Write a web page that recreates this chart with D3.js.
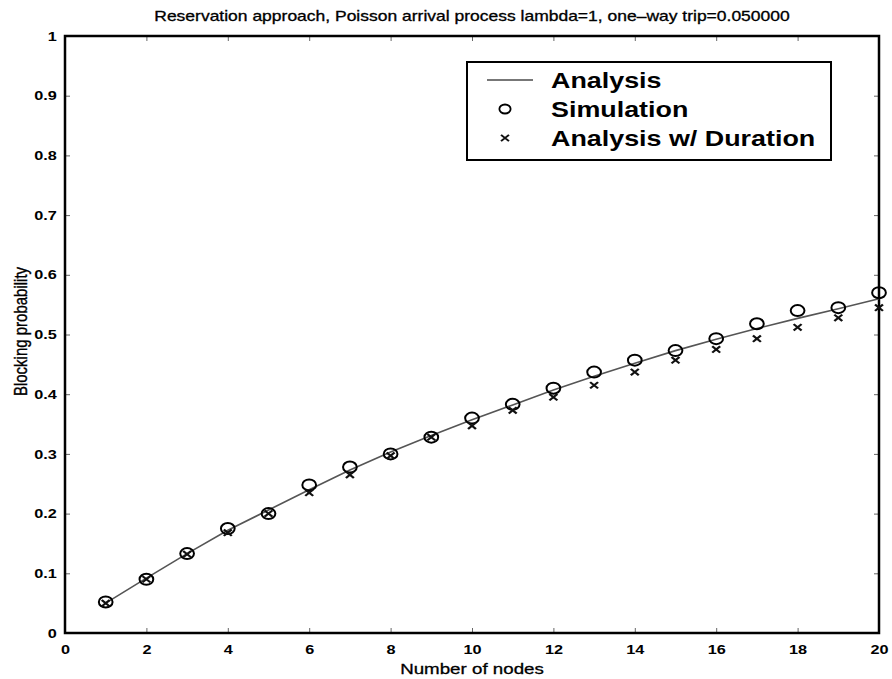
<!DOCTYPE html>
<html>
<head>
<meta charset="utf-8">
<script src="https://cdn.jsdelivr.net/npm/d3@7"></script>
<style>
  html, body { margin: 0; padding: 0; background: #fff; }
  svg text { font-family: "Liberation Sans", Arial, Helvetica, sans-serif; fill: #000; }
</style>
</head>
<body>
<svg id="chart" width="892" height="679"></svg>
<script>
// Number of nodes on the path
const nodes = [1,2,3,4,5,6,7,8,9,10,11,12,13,14,15,16,17,18,19,20];
// Blocking probability, analytic model
const analysis = [0.050,0.092,0.133,0.172,0.206,0.240,0.273,0.303,0.331,0.357,0.382,0.407,0.430,0.452,0.473,0.492,0.510,0.527,0.543,0.560];
// Blocking probability, simulation
const simulation = [0.052,0.090,0.133,0.175,0.200,0.248,0.278,0.300,0.328,0.360,0.383,0.410,0.437,0.457,0.473,0.493,0.518,0.540,0.545,0.570];
// Blocking probability, analytic model including call duration
const analysisDuration = [0.050,0.090,0.132,0.168,0.200,0.235,0.265,0.297,0.328,0.347,0.373,0.395,0.415,0.437,0.457,0.475,0.493,0.512,0.528,0.545];

const xTicks = [0,2,4,6,8,10,12,14,16,18,20];
const yTicks = [0,0.1,0.2,0.3,0.4,0.5,0.6,0.7,0.8,0.9,1];
const legendLabels = ["Analysis", "Simulation", "Analysis w/ Duration"];

// The figure is printed with a wide horizontal aspect; text and markers are widened to suit.
const SX = 1.25;

const svg = d3.select("#chart");
const plotL = 65, plotR = 879, plotT = 36, plotB = 633;

const x = d3.scaleLinear().domain([0, 20]).range([plotL, plotR]);
const y = d3.scaleLinear().domain([0, 1]).range([plotB, plotT]);

const fmtY = d => d === 0 ? "0" : d === 1 ? "1" : d3.format(".1f")(d);

// Helper for horizontally widened text placed at (px, py)
function wideText(px, py, str, size, anchor, weight) {
  return svg.append("text")
    .attr("transform", `translate(${px},${py}) scale(${SX},1)`)
    .attr("text-anchor", anchor || "start")
    .style("font-size", size + "px")
    .style("font-weight", weight || "normal")
    .text(str);
}

// Title
wideText((plotL + plotR) / 2, 21, "Reservation approach, Poisson arrival process lambda=1, one\u2013way trip=0.050000", 14, "middle")
  .attr("stroke", "#000").attr("stroke-width", 0.3);

// Axes with inward ticks on all four sides
const tickStyle = g => {
  g.select(".domain").remove();
  g.selectAll(".tick line").attr("stroke", "#666").attr("stroke-width", 1);
  g.selectAll(".tick text")
    .style("font-size", "13px").style("font-weight", "bold")
    .attr("transform", `scale(${SX},1)`);
};
svg.append("g").attr("transform", `translate(0,${plotB})`)
  .call(d3.axisBottom(x).tickValues(xTicks).tickSizeInner(-5).tickSizeOuter(0).tickPadding(12))
  .call(tickStyle);
svg.append("g").attr("transform", `translate(${plotL},0)`)
  .call(d3.axisLeft(y).tickValues(yTicks).tickFormat(fmtY).tickSizeInner(-5).tickSizeOuter(0).tickPadding(6.5))
  .call(tickStyle);
svg.append("g").attr("transform", `translate(0,${plotT})`)
  .call(d3.axisTop(x).tickValues(xTicks).tickFormat("").tickSizeInner(-5).tickSizeOuter(0))
  .call(tickStyle);
svg.append("g").attr("transform", `translate(${plotR},0)`)
  .call(d3.axisRight(y).tickValues(yTicks).tickFormat("").tickSizeInner(-5).tickSizeOuter(0))
  .call(tickStyle);

// Plot box
svg.append("rect")
  .attr("x", plotL).attr("y", plotT)
  .attr("width", plotR - plotL).attr("height", plotB - plotT)
  .attr("fill", "none").attr("stroke", "#000").attr("stroke-width", 2.5);

// Axis labels
wideText((plotL + plotR) / 2, 674, "Number of nodes", 15, "middle")
  .attr("stroke", "#000").attr("stroke-width", 0.3);
svg.append("text")
  .attr("transform", `translate(27,${(plotT + plotB) / 2 - 3}) scale(${SX},1) rotate(-90)`)
  .attr("text-anchor", "middle")
  .style("font-size", "15px")
  .attr("stroke", "#000").attr("stroke-width", 0.3)
  .text("Blocking probability");

// Analysis curve
const line = d3.line().x((d, i) => x(nodes[i])).y(d => y(d));
svg.append("path").datum(analysis)
  .attr("d", line).attr("fill", "none")
  .attr("stroke", "#555").attr("stroke-width", 1.6);

// Simulation markers (open circles)
svg.append("g").selectAll("ellipse").data(simulation).join("ellipse")
  .attr("cx", (d, i) => x(nodes[i])).attr("cy", d => y(d))
  .attr("rx", 5.5 * SX).attr("ry", 5.5).attr("fill", "none")
  .attr("stroke", "#000").attr("stroke-width", 2);

// Analysis with duration markers (crosses)
const cross = d3.symbol().type(d3.symbolX).size(28);
svg.append("g").selectAll("path").data(analysisDuration).join("path")
  .attr("transform", (d, i) => `translate(${x(nodes[i])},${y(d)}) scale(${SX},1)`)
  .attr("d", cross).attr("fill", "none")
  .attr("stroke", "#111").attr("stroke-width", 1.9);

// Legend
const lx = 467, ly = 62, lw = 364, lh = 98;
svg.append("rect").attr("x", lx).attr("y", ly).attr("width", lw).attr("height", lh)
  .attr("fill", "#fff").attr("stroke", "#000").attr("stroke-width", 2);
const rowY = i => ly + 18 + i * 29;
svg.append("line").attr("x1", lx + 20).attr("x2", lx + 66)
  .attr("y1", rowY(0)).attr("y2", rowY(0)).attr("stroke", "#777").attr("stroke-width", 2.2);
svg.append("ellipse").attr("cx", lx + 38).attr("cy", rowY(1)).attr("rx", 4.5 * SX).attr("ry", 4.5)
  .attr("fill", "none").attr("stroke", "#000").attr("stroke-width", 1.8);
svg.append("path").attr("transform", `translate(${lx + 38},${rowY(2)}) scale(${SX},1)`)
  .attr("d", cross).attr("fill", "none").attr("stroke", "#111").attr("stroke-width", 1.6);
legendLabels.forEach((lab, i) => {
  wideText(lx + 84, rowY(i) + 8, lab, 21.5, "start", "bold");
});
</script>
</body>
</html>
